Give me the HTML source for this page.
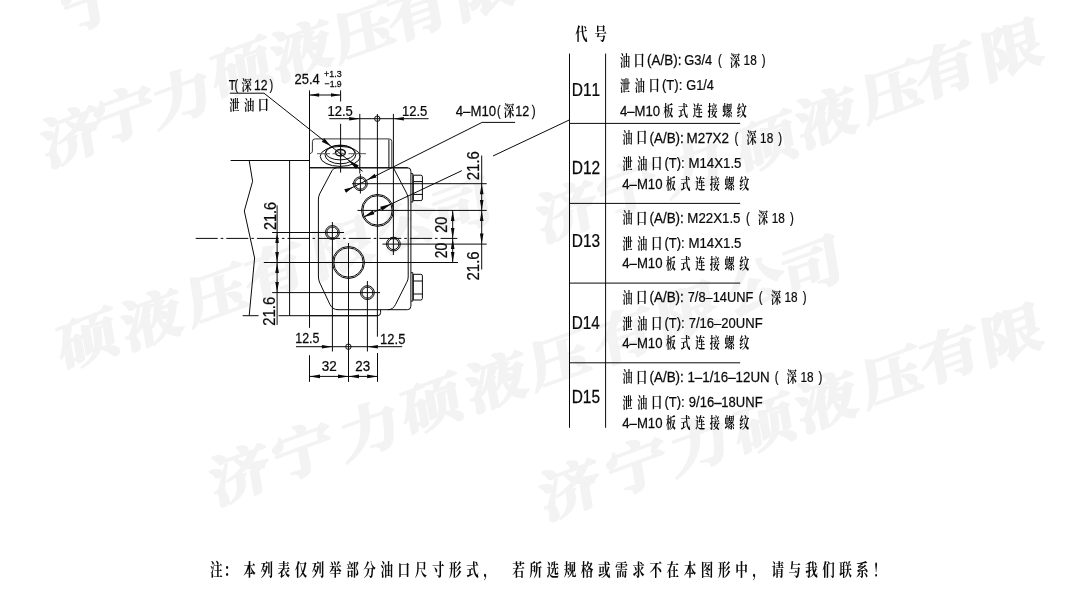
<!DOCTYPE html>
<html lang="zh-CN">
<head>
<meta charset="utf-8">
<title>油口尺寸</title>
<style>
html,body{margin:0;padding:0;background:#fff;}
body{width:1084px;height:607px;overflow:hidden;font-family:"Liberation Sans",sans-serif;}
svg{display:block;filter:grayscale(1);}
svg text{font-family:"Liberation Sans",sans-serif;fill:#0a0a0a;font-kerning:none;stroke:#0a0a0a;stroke-width:0.25;}
svg text.cjk{font-family:"Liberation Sans","Noto Serif CJK SC",serif;font-weight:bold;stroke:none;}
.dr line,.dr path,.dr circle,.dr ellipse,.dr polyline{stroke:#0a0a0a;stroke-width:1;fill:none;}
.dr .ah{fill:#0a0a0a;stroke:none;}
.dr .t{stroke-width:0.8;}
.cj{fill:#0a0a0a;}
.wm{fill:#f3f3f3;}
svg .wm text{font-family:"Liberation Sans","Noto Serif CJK SC",serif;font-weight:bold;fill:#f3f3f3;stroke:#f3f3f3;stroke-width:2;stroke-linejoin:round;font-size:54px;text-anchor:middle;}
</style>
</head>
<body>
<svg width="1084" height="607" viewBox="0 0 1084 607">
<title>油口尺寸代号 D11–D15</title>
<desc>T(深12) 泄油口；4–M10(深12)。代号 D11：油口(A/B): G3/4 (深18)，泄油口(T): G1/4，4–M10板式连接螺纹。D12：油口(A/B): M27X2 (深18)，泄油口(T): M14X1.5，4–M10板式连接螺纹。D13：油口(A/B): M22X1.5 (深18)，泄油口(T): M14X1.5，4–M10板式连接螺纹。D14：油口(A/B): 7/8–14UNF (深18)，泄油口(T): 7/16–20UNF，4–M10板式连接螺纹。D15：油口(A/B): 1–1/16–12UN (深18)，泄油口(T): 9/16–18UNF，4–M10板式连接螺纹。注：本列表仅列举部分油口尺寸形式，若所选规格或需求不在本图形中，请与我们联系！</desc>
<rect width="1084" height="607" fill="#fff"/>
<g class="wm" aria-label="济宁力硕液压有限公司">
<text transform="translate(71.5,137) rotate(-20) skewX(-10) scale(1.18,1)" y="19">济</text>
<text transform="translate(124.6,115.3) rotate(-20) skewX(-10) scale(1.18,1)" y="19">宁</text>
<text transform="translate(182,97) rotate(-20) skewX(-10) scale(1.18,1)" y="19">力</text>
<text transform="translate(242,69) rotate(-20) skewX(-10) scale(1.18,1)" y="19">硕</text>
<text transform="translate(302,51) rotate(-20) skewX(-10) scale(1.18,1)" y="19">液</text>
<text transform="translate(364,31) rotate(-20) skewX(-10) scale(1.18,1)" y="19">压</text>
<text transform="translate(418,12) rotate(-20) skewX(-10) scale(1.18,1)" y="19">有</text>
<text transform="translate(485,-10) rotate(-20) skewX(-10) scale(1.18,1)" y="19">限</text>
<text transform="translate(92,3) rotate(-20) skewX(-10) scale(1.18,1)" y="19">宁</text>
<text transform="translate(567,212) rotate(-20) skewX(-10) scale(1.18,1)" y="19">济</text>
<text transform="translate(628,190) rotate(-20) skewX(-10) scale(1.18,1)" y="19">宁</text>
<text transform="translate(694,166) rotate(-20) skewX(-10) scale(1.18,1)" y="19">力</text>
<text transform="translate(767,143) rotate(-20) skewX(-10) scale(1.18,1)" y="19">硕</text>
<text transform="translate(827,118) rotate(-20) skewX(-10) scale(1.18,1)" y="19">液</text>
<text transform="translate(892,92) rotate(-20) skewX(-10) scale(1.18,1)" y="19">压</text>
<text transform="translate(946,70) rotate(-20) skewX(-10) scale(1.18,1)" y="19">有</text>
<text transform="translate(1012,50) rotate(-20) skewX(-10) scale(1.18,1)" y="19">限</text>
<text transform="translate(88,340) rotate(-20) skewX(-10) scale(1.18,1)" y="19">硕</text>
<text transform="translate(152,320) rotate(-20) skewX(-10) scale(1.18,1)" y="19">液</text>
<text transform="translate(217,295) rotate(-20) skewX(-10) scale(1.18,1)" y="19">压</text>
<text transform="translate(275,272) rotate(-20) skewX(-10) scale(1.18,1)" y="19">有</text>
<text transform="translate(343,248) rotate(-20) skewX(-10) scale(1.18,1)" y="19">限</text>
<text transform="translate(406,225) rotate(-20) skewX(-10) scale(1.18,1)" y="19">公</text>
<text transform="translate(462,208) rotate(-20) skewX(-10) scale(1.18,1)" y="19">司</text>
<text transform="translate(240,475) rotate(-20) skewX(-10) scale(1.18,1)" y="19">济</text>
<text transform="translate(303,452) rotate(-20) skewX(-10) scale(1.18,1)" y="19">宁</text>
<text transform="translate(370,430) rotate(-20) skewX(-10) scale(1.18,1)" y="19">力</text>
<text transform="translate(432,405) rotate(-20) skewX(-10) scale(1.18,1)" y="19">硕</text>
<text transform="translate(497,382) rotate(-20) skewX(-10) scale(1.18,1)" y="19">液</text>
<text transform="translate(560,359) rotate(-20) skewX(-10) scale(1.18,1)" y="19">压</text>
<text transform="translate(624,336) rotate(-20) skewX(-10) scale(1.18,1)" y="19">有</text>
<text transform="translate(688,313) rotate(-20) skewX(-10) scale(1.18,1)" y="19">限</text>
<text transform="translate(755,287) rotate(-20) skewX(-10) scale(1.18,1)" y="19">公</text>
<text transform="translate(812,267) rotate(-20) skewX(-10) scale(1.18,1)" y="19">司</text>
<text transform="translate(570,490) rotate(-20) skewX(-10) scale(1.18,1)" y="19">济</text>
<text transform="translate(637,467) rotate(-20) skewX(-10) scale(1.18,1)" y="19">宁</text>
<text transform="translate(700,445) rotate(-20) skewX(-10) scale(1.18,1)" y="19">力</text>
<text transform="translate(765,425) rotate(-20) skewX(-10) scale(1.18,1)" y="19">硕</text>
<text transform="translate(827,402) rotate(-20) skewX(-10) scale(1.18,1)" y="19">液</text>
<text transform="translate(892,377) rotate(-20) skewX(-10) scale(1.18,1)" y="19">压</text>
<text transform="translate(950,355) rotate(-20) skewX(-10) scale(1.18,1)" y="19">有</text>
<text transform="translate(1012,335) rotate(-20) skewX(-10) scale(1.18,1)" y="19">限</text>
</g>
<g class="dr">
<line x1="230.6" y1="160.5" x2="309.5" y2="160.5"/>
<path d="M249.2,160.5L252.6,181.3L244.3,211L254.6,258L249.2,315.7"/>
<line x1="242.7" y1="315.7" x2="258.6" y2="315.7"/>
<line x1="278.6" y1="315.7" x2="377.5" y2="315.7"/>
<line x1="289.6" y1="160.5" x2="289.6" y2="315.7"/>
<line x1="195.7" y1="238.4" x2="457.3" y2="238.4" stroke-dasharray="22 3 2.6 3"/>
<line x1="309.5" y1="90.4" x2="309.5" y2="327.8"/>
<line x1="309.5" y1="355.2" x2="309.5" y2="381.9"/>
<path d="M309.9,153.6C312.4,153.2 312.5,151.4 312.4,150L312.4,141.6Q312.4,138.9 315.1,138.9L389.2,138.9Q391.8,138.9 391.8,141.6L391.8,167.7" stroke-width="1.2" style="stroke:#333"/>
<line x1="388.9" y1="139.6" x2="388.9" y2="167.7"/>
<path d="M309.5,167.7L407.4,167.7Q410.9,167.7 410.9,171.2L410.9,306.2Q410.9,309.7 407.4,309.7L337.6,309.7" stroke-width="1.5"/>
<line x1="309.5" y1="167.8" x2="335" y2="167.8" stroke-width="1.3"/>
<line x1="335" y1="167.9" x2="408" y2="167.9" stroke-width="2.2"/>
<path d="M393.3,167.7L406.6,193.2Q408.2,196 408.2,199L408.2,277Q408.2,280 406.6,282.6L395.6,304.4Q393,309.7 388,309.7"/>
<path d="M336.8,167.7Q333.5,167.9 332,170.6L319.6,194Q318.4,196.6 318.4,200L318.4,276Q318.4,279 319.4,282L329.8,304.2Q332.4,309.7 338,309.7"/>
<path d="M309.5,315.7L377.6,315.7Q380.6,315.7 380.6,312.7L380.6,309.7"/>
<path d="M411,173.6L412.8,173.6L412.8,202L411,202" stroke-width="1.0"/>
<path d="M413.3,175.2L420.8,175.2Q422.4,175.2 422.4,176.8L422.4,199Q422.4,200.6 420.8,200.6L413.3,200.6Z" stroke-width="1.6"/>
<line x1="413.3" y1="181.6" x2="422.4" y2="181.6" stroke-width="1.4"/>
<line x1="413.3" y1="194.4" x2="422.4" y2="194.4" stroke-width="1.4"/>
<path d="M411,272.7L412.8,272.7L412.8,301.1L411,301.1" stroke-width="1.0"/>
<path d="M413.3,274.3L420.8,274.3Q422.4,274.3 422.4,275.9L422.4,298.4Q422.4,300 420.8,300L413.3,300Z" stroke-width="1.6"/>
<line x1="413.3" y1="281" x2="422.4" y2="281" stroke-width="1.4"/>
<line x1="413.3" y1="294" x2="422.4" y2="294" stroke-width="1.4"/>
<ellipse cx="340.2" cy="156.4" rx="20" ry="10"/>
<ellipse cx="340.4" cy="154.6" rx="15.4" ry="9.2"/>
<ellipse cx="340.2" cy="152.5" rx="14.5" ry="7.4"/>
<ellipse cx="340.4" cy="152.7" rx="4.9" ry="3.2" style="stroke-width:1.5"/>
<ellipse cx="340.4" cy="152.7" rx="2.4" ry="1.5" style="fill:#bbb;stroke:none"/>
<line x1="317" y1="153.7" x2="366" y2="153.7" stroke-width="0.9" stroke-dasharray="13 2.5 5 2.5 6 2.5 18" style="stroke:#555"/>
<line x1="340.6" y1="123.8" x2="340.6" y2="172.6"/>
<line x1="340.6" y1="90.4" x2="340.6" y2="101.5"/>
<circle cx="360.4" cy="183.7" r="6.9" stroke-width="1.3"/>
<circle cx="360.4" cy="183.7" r="5.5" stroke-width="0.9"/>
<circle cx="332.4" cy="232.5" r="6.9" stroke-width="1.3"/>
<circle cx="332.4" cy="232.5" r="5.5" stroke-width="0.9"/>
<circle cx="393.4" cy="244.1" r="6.9" stroke-width="1.3"/>
<circle cx="393.4" cy="244.1" r="5.5" stroke-width="0.9"/>
<circle cx="367.4" cy="292.6" r="6.9" stroke-width="1.3"/>
<circle cx="367.4" cy="292.6" r="5.5" stroke-width="0.9"/>
<line x1="352" y1="183.7" x2="486.7" y2="183.7"/>
<line x1="360.4" y1="174" x2="360.4" y2="193.5"/>
<line x1="272.1" y1="232.5" x2="344" y2="232.5"/>
<line x1="332.4" y1="222" x2="332.4" y2="351.5"/>
<line x1="382.4" y1="244.1" x2="486.7" y2="244.1"/>
<line x1="393.4" y1="113.9" x2="393.4" y2="255"/>
<line x1="272.1" y1="292.6" x2="380" y2="292.6"/>
<line x1="367.4" y1="281" x2="367.4" y2="351.5"/>
<circle cx="377.5" cy="210.4" r="16" stroke-width="1.5"/>
<circle cx="377.5" cy="210.4" r="14.7" stroke-width="0.9"/>
<circle cx="348.5" cy="262.5" r="16" stroke-width="1.5"/>
<circle cx="348.5" cy="262.5" r="14.7" stroke-width="0.9"/>
<line x1="357.5" y1="210.4" x2="425" y2="210.4"/>
<line x1="425" y1="210.4" x2="486.7" y2="210.4" stroke-width="1.4"/>
<line x1="263.8" y1="262.5" x2="458" y2="262.5"/>
<line x1="377.4" y1="114" x2="377.4" y2="336.7"/>
<line x1="377.5" y1="353" x2="377.5" y2="381.9"/>
<line x1="348.5" y1="243" x2="348.5" y2="381.9"/>
<line x1="359.8" y1="113.9" x2="359.8" y2="173.5"/>
<line x1="309.5" y1="95" x2="340.6" y2="95"/>
<path class="ah" d="M309.5,95L319.1,93.2L319.1,96.8Z"/>
<path class="ah" d="M340.6,95L331,96.8L331,93.2Z"/>
<line x1="329.3" y1="118.7" x2="428.6" y2="118.7"/>
<path class="ah" d="M360,118.7L349.2,120.45L349.2,116.95Z"/>
<path class="ah" d="M393.3,118.7L403.9,116.95L403.9,120.45Z"/>
<circle cx="377.3" cy="118.7" r="2.7" stroke-width="1.6"/>
<line x1="296" y1="346.7" x2="402.2" y2="346.7"/>
<path class="ah" d="M332.4,346.7L321.9,348.5L321.9,344.9Z"/>
<path class="ah" d="M367.4,346.7L377.9,344.9L377.9,348.5Z"/>
<circle cx="348.4" cy="346.7" r="2.7" stroke-width="1.6"/>
<line x1="309.5" y1="376.4" x2="377.6" y2="376.4"/>
<path class="ah" d="M309.5,376.4L320,374.6L320,378.2Z"/>
<path class="ah" d="M348.5,376.4L338,378.2L338,374.6Z"/>
<path class="ah" d="M348.5,376.4L359,374.6L359,378.2Z"/>
<path class="ah" d="M377.6,376.4L367.1,378.2L367.1,374.6Z"/>
<line x1="277.1" y1="205.4" x2="277.1" y2="324.9"/>
<path class="ah" d="M277.1,232.5L278.9,243L275.3,243Z"/>
<path class="ah" d="M277.1,262.5L275.3,252L278.9,252Z"/>
<path class="ah" d="M277.1,262.5L278.9,273L275.3,273Z"/>
<path class="ah" d="M277.1,292.6L275.3,282.1L278.9,282.1Z"/>
<line x1="481.7" y1="155.5" x2="481.7" y2="269.5"/>
<path class="ah" d="M481.7,183.7L483.5,194.2L479.9,194.2Z"/>
<path class="ah" d="M481.7,210.4L479.9,199.9L483.5,199.9Z"/>
<path class="ah" d="M481.7,210.4L483.5,220.9L479.9,220.9Z"/>
<path class="ah" d="M481.7,244.1L479.9,233.6L483.5,233.6Z"/>
<line x1="452.7" y1="210.4" x2="452.7" y2="262.5"/>
<path class="ah" d="M452.7,210.4L454.5,220.9L450.9,220.9Z"/>
<path class="ah" d="M452.7,238.4L450.9,227.9L454.5,227.9Z"/>
<path class="ah" d="M452.7,238.4L454.5,248.9L450.9,248.9Z"/>
<path class="ah" d="M452.7,262.5L450.9,252L454.5,252Z"/>
<path d="M229.8,93.2L264,93.2L362.6,171.3"/>
<path class="ah" d="M330.9,146.2L321.75,141.65L324.36,138.35Z"/>
<path class="ah" d="M347.6,159.4L358.77,165.43L356.04,168.88Z"/>
<path d="M515.1,122.4L482.1,122.4L345.2,191.1"/>
<path class="ah" d="M367.3,179.8L374.72,173.84L376.51,177.42Z"/>
<path class="ah" d="M353.3,186.9L346.06,192.77L344.27,189.19Z"/>
<line x1="363.2" y1="217.19" x2="461.8" y2="170.68"/>
<line x1="493" y1="155.97" x2="569.5" y2="119.88"/>
<path class="ah" d="M391.6,203.8L382,210.64L380.21,206.85Z"/>
<path class="ah" d="M363.2,217.19L372.61,210.43L374.41,214.23Z"/>
<line x1="569.5" y1="53.6" x2="569.5" y2="427.8"/>
<line x1="605.6" y1="53.6" x2="605.6" y2="427.8"/>
<line x1="569.5" y1="123.4" x2="740.2" y2="123.4"/>
<line x1="569.5" y1="203.4" x2="740.2" y2="203.4"/>
<line x1="569.5" y1="283.1" x2="740.2" y2="283.1"/>
<line x1="569.5" y1="362.8" x2="740.2" y2="362.8"/>
</g>
<g class="cj">
<text transform="translate(228.75,89.6) scale(0.75604,1)" font-size="14.97">T</text>
<text transform="translate(234.59,89.6) scale(0.74,1)" font-size="14.97">(</text>
<text class="cjk" transform="translate(241.58,90.2) scale(0.73,1)" font-size="14.1">深</text>
<text transform="translate(254.07,89.6) scale(0.81305,1)" font-size="14.97">12</text>
<text transform="translate(269.47,89.6) scale(0.74,1)" font-size="14.97">)</text>
<text class="cjk" transform="translate(229.2,110) scale(0.73,1)" font-size="14.1" letter-spacing="6.26">泄油</text>
<text class="cjk" transform="translate(257.79,110.41) scale(0.73,1)" font-size="15.23">口</text>
<text transform="translate(294.55,84.3) scale(0.90092,1)" font-size="14.39">25.4</text>
<text transform="translate(324.06,77) scale(0.95993,1)" font-size="9.3">+1.3</text>
<text transform="translate(324.57,87.2) scale(0.9333,1)" font-size="9.3">−1.9</text>
<text transform="translate(327.51,115.9) scale(0.87812,1)" font-size="14.83">12.5</text>
<text transform="translate(401.9,115.9) scale(0.88181,1)" font-size="14.83">12.5</text>
<text transform="translate(295.25,342.8) scale(0.8294,1)" font-size="14.97">12.5</text>
<text transform="translate(380.11,343.6) scale(0.86959,1)" font-size="14.97">12.5</text>
<text transform="translate(321.69,370.5) scale(0.90023,1)" font-size="14.97">32</text>
<text transform="translate(355.33,370.5) scale(0.89229,1)" font-size="14.97">23</text>
<text transform="translate(455.7,115.8) scale(0.86617,1)" font-size="15.26">4–M10</text>
<text transform="translate(497.05,115.8) scale(0.74,1)" font-size="15.26">(</text>
<text class="cjk" transform="translate(503.68,116.3) scale(0.73,1)" font-size="14.6">深</text>
<text transform="translate(515.14,115.8) scale(0.82415,1)" font-size="15.26">12</text>
<text transform="translate(531.83,115.8) scale(0.7661,1)" font-size="15.26">)</text>
<text transform="translate(275.6,230.03) rotate(-90) scale(0.91837,1)" font-size="15.7">21.6</text>
<text transform="translate(275,325.65) rotate(-90) scale(0.94588,1)" font-size="15.7">21.6</text>
<text transform="translate(479.3,180.25) rotate(-90) scale(0.95276,1)" font-size="15.7">21.6</text>
<text transform="translate(479.3,280.45) rotate(-90) scale(0.95276,1)" font-size="15.7">21.6</text>
<text transform="translate(447.2,232.82) rotate(-90) scale(0.91542,1)" font-size="15.7">20</text>
<text transform="translate(447.2,258.19) rotate(-90) scale(0.87806,1)" font-size="15.7">20</text>
<text class="cjk" transform="translate(575.19,39.6) scale(0.7,1)" font-size="17.6" letter-spacing="9.93">代号</text>
<text transform="translate(571.73,96) scale(0.81385,1)" font-size="19.04">D11</text>
<text class="cjk" transform="translate(620.07,65.5) scale(0.7,1)" font-size="14.4">油</text>
<text class="cjk" transform="translate(633.82,65.92) scale(0.7,1)" font-size="15.55">口</text>
<text transform="translate(647.07,65) scale(0.8645,1)" font-size="15.55">(A/B):</text>
<text transform="translate(684.35,65) scale(0.82821,1)" font-size="15.55">G3/4</text>
<text transform="translate(717.96,65) scale(0.74,1)" font-size="15.55">(</text>
<text class="cjk" transform="translate(729.99,65.5) scale(0.7,1)" font-size="14.4">深</text>
<text transform="translate(743.6,65) scale(0.75784,1)" font-size="15.55">18</text>
<text transform="translate(761.81,65) scale(0.74,1)" font-size="15.55">)</text>
<text class="cjk" transform="translate(620.11,90.6) scale(0.7,1)" font-size="14.4" letter-spacing="6.69">泄油</text>
<text class="cjk" transform="translate(648.82,91.02) scale(0.7,1)" font-size="15.55">口</text>
<text transform="translate(661.99,90.1) scale(0.83965,1)" font-size="15.55">(T):</text>
<text transform="translate(686.36,90.1) scale(0.81897,1)" font-size="15.55">G1/4</text>
<text transform="translate(619.9,115.9) scale(0.84569,1)" font-size="15.55">4–M10</text>
<text class="cjk" transform="translate(663.34,116.4) scale(0.7,1)" font-size="14.4" letter-spacing="6.63">板式连接螺纹</text>
<text transform="translate(571.73,173.5) scale(0.81455,1)" font-size="19.04">D12</text>
<text class="cjk" transform="translate(622.47,143) scale(0.7,1)" font-size="14.4">油</text>
<text class="cjk" transform="translate(636.22,143.42) scale(0.7,1)" font-size="15.55">口</text>
<text transform="translate(649.47,142.5) scale(0.8645,1)" font-size="15.55">(A/B):</text>
<text transform="translate(686.5,142.5) scale(0.86405,1)" font-size="15.55">M27X2</text>
<text transform="translate(734.46,142.5) scale(0.74,1)" font-size="15.55">(</text>
<text class="cjk" transform="translate(746.49,143) scale(0.7,1)" font-size="14.4">深</text>
<text transform="translate(760.1,142.5) scale(0.75784,1)" font-size="15.55">18</text>
<text transform="translate(778.31,142.5) scale(0.74,1)" font-size="15.55">)</text>
<text class="cjk" transform="translate(622.51,168.6) scale(0.7,1)" font-size="14.4" letter-spacing="6.69">泄油</text>
<text class="cjk" transform="translate(651.22,169.02) scale(0.7,1)" font-size="15.55">口</text>
<text transform="translate(664.39,168.1) scale(0.83965,1)" font-size="15.55">(T):</text>
<text transform="translate(688.41,168.1) scale(0.85379,1)" font-size="15.55">M14X1.5</text>
<text transform="translate(622.3,188.7) scale(0.84569,1)" font-size="15.55">4–M10</text>
<text class="cjk" transform="translate(665.74,189.2) scale(0.7,1)" font-size="14.4" letter-spacing="6.63">板式连接螺纹</text>
<text transform="translate(571.73,247.2) scale(0.81152,1)" font-size="19.04">D13</text>
<text class="cjk" transform="translate(622.47,223.2) scale(0.7,1)" font-size="14.4">油</text>
<text class="cjk" transform="translate(636.22,223.62) scale(0.7,1)" font-size="15.55">口</text>
<text transform="translate(649.47,222.7) scale(0.8645,1)" font-size="15.55">(A/B):</text>
<text transform="translate(687.31,222.7) scale(0.85545,1)" font-size="15.55">M22X1.5</text>
<text transform="translate(746.06,222.7) scale(0.74,1)" font-size="15.55">(</text>
<text class="cjk" transform="translate(758.09,223.2) scale(0.7,1)" font-size="14.4">深</text>
<text transform="translate(771.7,222.7) scale(0.75784,1)" font-size="15.55">18</text>
<text transform="translate(789.91,222.7) scale(0.74,1)" font-size="15.55">)</text>
<text class="cjk" transform="translate(622.51,248.7) scale(0.7,1)" font-size="14.4" letter-spacing="6.69">泄油</text>
<text class="cjk" transform="translate(651.22,249.12) scale(0.7,1)" font-size="15.55">口</text>
<text transform="translate(664.39,248.2) scale(0.83965,1)" font-size="15.55">(T):</text>
<text transform="translate(688.41,248.2) scale(0.85379,1)" font-size="15.55">M14X1.5</text>
<text transform="translate(622.3,268) scale(0.84569,1)" font-size="15.55">4–M10</text>
<text class="cjk" transform="translate(665.74,268.5) scale(0.7,1)" font-size="14.4" letter-spacing="6.63">板式连接螺纹</text>
<text transform="translate(571.74,329.2) scale(0.80462,1)" font-size="19.04">D14</text>
<text class="cjk" transform="translate(622.47,302.8) scale(0.7,1)" font-size="14.4">油</text>
<text class="cjk" transform="translate(636.22,303.22) scale(0.7,1)" font-size="15.55">口</text>
<text transform="translate(649.47,302.3) scale(0.8645,1)" font-size="15.55">(A/B):</text>
<text transform="translate(687.74,302.3) scale(0.82445,1)" font-size="15.55">7/8–14UNF</text>
<text transform="translate(758.86,302.3) scale(0.74,1)" font-size="15.55">(</text>
<text class="cjk" transform="translate(770.89,302.8) scale(0.7,1)" font-size="14.4">深</text>
<text transform="translate(784.5,302.3) scale(0.75784,1)" font-size="15.55">18</text>
<text transform="translate(802.71,302.3) scale(0.74,1)" font-size="15.55">)</text>
<text class="cjk" transform="translate(622.51,328.5) scale(0.7,1)" font-size="14.4" letter-spacing="6.69">泄油</text>
<text class="cjk" transform="translate(651.22,328.92) scale(0.7,1)" font-size="15.55">口</text>
<text transform="translate(664.39,328) scale(0.83965,1)" font-size="15.55">(T):</text>
<text transform="translate(688.73,328) scale(0.83908,1)" font-size="15.55">7/16–20UNF</text>
<text transform="translate(622.3,347.9) scale(0.84569,1)" font-size="15.55">4–M10</text>
<text class="cjk" transform="translate(665.74,348.4) scale(0.7,1)" font-size="14.4" letter-spacing="6.63">板式连接螺纹</text>
<text transform="translate(571.73,402.9) scale(0.81059,1)" font-size="19.04">D15</text>
<text class="cjk" transform="translate(622.47,382.4) scale(0.7,1)" font-size="14.4">油</text>
<text class="cjk" transform="translate(636.22,382.82) scale(0.7,1)" font-size="15.55">口</text>
<text transform="translate(649.47,381.9) scale(0.8645,1)" font-size="15.55">(A/B):</text>
<text transform="translate(687.38,381.9) scale(0.85856,1)" font-size="15.55">1–1/16–12UN</text>
<text transform="translate(774.76,381.9) scale(0.74,1)" font-size="15.55">(</text>
<text class="cjk" transform="translate(786.79,382.4) scale(0.7,1)" font-size="14.4">深</text>
<text transform="translate(800.4,381.9) scale(0.75784,1)" font-size="15.55">18</text>
<text transform="translate(818.61,381.9) scale(0.74,1)" font-size="15.55">)</text>
<text class="cjk" transform="translate(622.51,407.9) scale(0.7,1)" font-size="14.4" letter-spacing="6.69">泄油</text>
<text class="cjk" transform="translate(651.22,408.32) scale(0.7,1)" font-size="15.55">口</text>
<text transform="translate(664.39,407.4) scale(0.83965,1)" font-size="15.55">(T):</text>
<text transform="translate(688.79,407.4) scale(0.83842,1)" font-size="15.55">9/16–18UNF</text>
<text transform="translate(622.3,427.7) scale(0.84569,1)" font-size="15.55">4–M10</text>
<text class="cjk" transform="translate(665.74,428.2) scale(0.7,1)" font-size="14.4" letter-spacing="6.63">板式连接螺纹</text>
<text class="cjk" transform="translate(209.94,575.6) scale(0.74,1)" font-size="17" letter-spacing="1.66">注：</text>
<text class="cjk" transform="translate(243.27,575.6) scale(0.74,1)" font-size="17" letter-spacing="6.19">本列表仅列举部分油口尺寸形式，</text>
<text class="cjk" transform="translate(512.26,575.6) scale(0.74,1)" font-size="17" letter-spacing="6.19">若所选规格或需求不在本图形中，</text>
<text class="cjk" transform="translate(771.46,575.6) scale(0.74,1)" font-size="17" letter-spacing="5.88">请与我们联系！</text>
</g>
</svg>
</body>
</html>
